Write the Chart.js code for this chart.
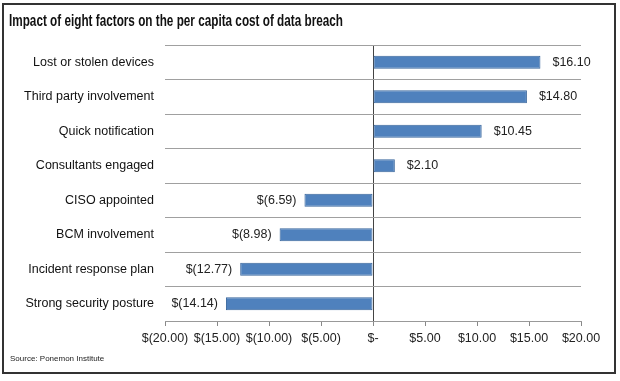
<!DOCTYPE html>
<html>
<head>
<meta charset="utf-8">
<script src="https://cdn.jsdelivr.net/npm/chart.js@4/dist/chart.umd.min.js"></script>
<style>
html,body{margin:0;padding:0;background:#fff;}
#wrap{width:620px;height:381px;position:relative;}
</style>
</head>
<body>
<div id="wrap"><canvas id="c" width="620" height="381"></canvas></div>
<script>
const chartTitle = "Impact of eight factors on the per capita cost of data breach";
const sourceNote = "Source: Ponemon Institute";
const categories = ["Lost or stolen devices","Third party involvement","Quick notification","Consultants engaged","CISO appointed","BCM involvement","Incident response plan","Strong security posture"];
const values = [16.10, 14.80, 10.45, 2.10, -6.59, -8.98, -12.77, -14.14];
const axisMin = -20, axisMax = 20, axisStep = 5;

function money(v){
  if (Math.abs(v) < 1e-9) return "$-";
  const s = Math.abs(v).toFixed(2);
  return v < 0 ? "$(" + s + ")" : "$" + s;
}

const FONT = '"Liberation Sans", Arial, sans-serif';

const decor = {
  id: 'decor',
  afterDraw(chart){
    const ctx = chart.ctx;
    ctx.save();
    // outer frame
    ctx.strokeStyle = '#333';
    ctx.lineWidth = 2;
    ctx.strokeRect(3, 4, 612, 369);
    // title (condensed to match narrow face)
    ctx.fillStyle = '#111';
    ctx.font = 'bold 16px ' + FONT;
    ctx.textBaseline = 'alphabetic';
    ctx.textAlign = 'left';
    const w = ctx.measureText(chartTitle).width;
    const sx = 334 / w;
    ctx.save();
    ctx.translate(9, 26);
    ctx.scale(sx, 1);
    ctx.fillText(chartTitle, 0, 0);
    ctx.restore();
    // source
    ctx.font = '8px ' + FONT;
    ctx.fillStyle = '#222';
    ctx.fillText(sourceNote, 10, 361);
    // value labels
    const meta = chart.getDatasetMeta(0);
    ctx.font = '12.5px ' + FONT;
    ctx.fillStyle = '#222';
    ctx.textBaseline = 'middle';
    meta.data.forEach((bar, i) => {
      const v = values[i];
      if (v >= 0) { ctx.textAlign = 'left'; ctx.fillText(money(v), bar.x + 12, bar.y); }
      else { ctx.textAlign = 'right'; ctx.fillText(money(v), bar.x - 8, bar.y); }
    });
    ctx.restore();
  }
};

new Chart(document.getElementById('c'), {
  type: 'bar',
  data: {
    labels: categories,
    datasets: [{
      data: values,
      backgroundColor: '#4f81bd',
      borderColor: '#38659c',
      borderWidth: 1,
      borderSkipped: false,
      barPercentage: 0.38,
      categoryPercentage: 1
    }]
  },
  options: {
    indexAxis: 'y',
    responsive: false,
    animation: false,
    devicePixelRatio: 1,
    layout: { padding: { top: 45, right: 39, bottom: 0, left: 0 } },
    plugins: { legend: { display: false }, title: { display: false }, tooltip: { enabled: false } },
    scales: {
      x: {
        min: axisMin, max: axisMax,
        afterFit(s){ s.height = 60; },
        ticks: {
          stepSize: axisStep,
          callback: (v) => money(v),
          color: '#222',
          font: { size: 12.5, family: FONT },
          padding: 5,
          maxRotation: 0
        },
        grid: {
          color: (c) => (c.tick && c.tick.value === 0) ? '#444' : 'rgba(0,0,0,0)',
          tickColor: '#888',
          tickLength: 5,
          drawOnChartArea: true
        },
        border: { display: true, color: '#999', width: 1 }
      },
      y: {
        afterFit(s){ s.width = 165; },
        ticks: {
          color: '#111',
          font: { size: 12.5, family: FONT },
          padding: 11
        },
        grid: { offset: true, color: '#a0a0a0', lineWidth: 1, drawTicks: false },
        border: { display: false }
      }
    }
  },
  plugins: [decor]
});
</script>
</body>
</html>
